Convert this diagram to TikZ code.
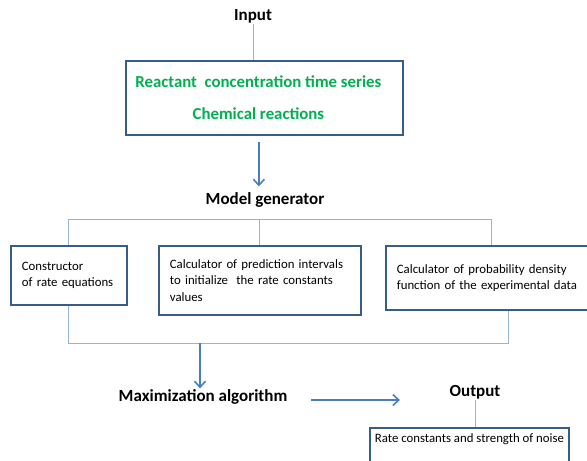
\documentclass[tikz,border=0pt]{standalone}
\usepackage{fontspec}
\setmainfont{Carlito}
\usetikzlibrary{arrows.meta,calc}
\definecolor{boxblue}{HTML}{385D8A}
\definecolor{linkblue}{HTML}{95B3D7}
\definecolor{arrblue}{HTML}{4A7EBB}
\definecolor{txtgreen}{HTML}{00B050}
\begin{document}
\begin{tikzpicture}[x=1pt,y=-1pt,
  box/.style={draw=boxblue,line width=1.8pt,rectangle,anchor=north west,inner xsep=10pt,align=left,font=\fontsize{12.8}{16.3}\selectfont},
  title/.style={font=\bfseries\fontsize{17}{20}\selectfont,inner sep=1pt},
  link/.style={draw=linkblue,line width=0.9pt},
  arr/.style={draw=arrblue,line width=1.6pt,-{Straight Barb[length=6pt,width=11pt]}}]
\useasboundingbox (0,0) rectangle (587,461);
\clip (0,0) rectangle (587,461);
\fill[white] (0,0) rectangle (587,461);

\node[title] (input) at (253,16) {Input};
\node[draw=boxblue,line width=1.8pt,minimum width=277pt,minimum height=74pt,anchor=north west,align=center,
      font=\bfseries\fontsize{16.8}{32}\selectfont,text=txtgreen] (inbox) at (125,60)
      {Reactant~~concentration time series\hspace*{12pt}\\Chemical reactions\hspace*{12pt}};
\draw[link] (input.south) -- (input.south |- inbox.north);

\node[title] (mg) at (265,200) {Model generator};
\draw[arr,shorten <=6pt,shorten >=5pt] ([xshift=-5.5pt]inbox.south) -- ([xshift=-5.5pt]inbox.south |- mg.north);

\node[box,minimum width=116pt,minimum height=59pt,text width=94pt] (b1) at (10,245) {Constructor\\of rate equations};
\node[box,minimum width=202pt,minimum height=69pt,text width=180pt] (b2) at (158,245) {Calculator of prediction intervals\\to initialize~ the rate constants\\values};
\node[box,minimum width=212pt,minimum height=64pt,text width=190pt] (b3) at (385,245) {Calculator of probability density\\function of the experimental data};

\coordinate (tb) at (0,219);
\draw[link] (b1.north) -- (b1.north |- tb) -- (b3.north |- tb) -- (b3.north);
\draw[link] (b2.north) -- (b2.north |- tb);

\coordinate (bb) at (508,343);
\draw[link] (b1.south) |- (bb) -- (bb |- b3.south);

\coordinate (bj) at (200,343);
\node[title] (max) at (203,397) {Maximization algorithm};
\draw[arr] (bj) -- (bj |- max.north);

\node[title] (out) at (475,392) {Output};
\coordinate (oa) at (400,400);
\draw[arr,shorten <=23pt] (max.east |- oa) -- (oa);

\node[box,inner xsep=5pt,inner ysep=6pt,text depth=30pt] (ob) at (369,427) {Rate constants and strength of noise};
\draw[link] (out.south) -- (out.south |- ob.north);
\end{tikzpicture}
\end{document}
